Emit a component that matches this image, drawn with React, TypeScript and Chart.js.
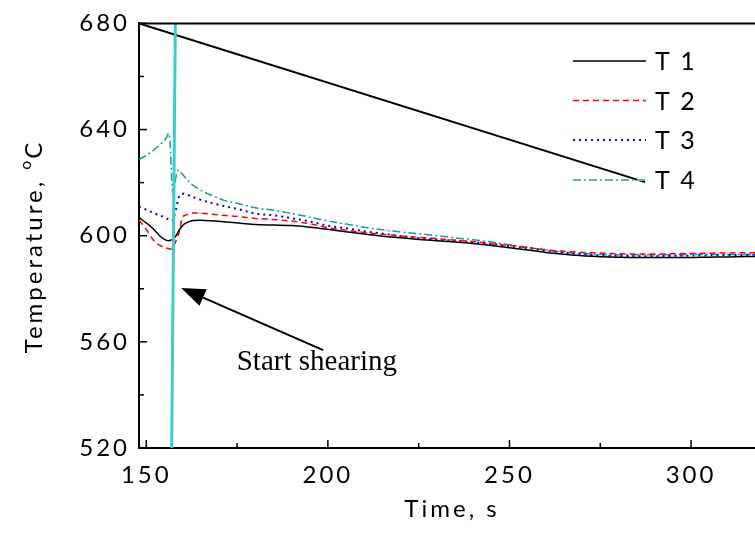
import React, { useEffect, useRef } from "react";
import { Chart, registerables } from "chart.js";

Chart.register(...registerables);

// ---- axis ranges / ticks ----
const xMin = 148;
const xMax = 317.6;
const yMin = 520;
const yMax = 680;
const xMajorTicks = [150, 200, 250, 300];
const xMinorTicks = [175, 225, 275];
const yMajorTicks = [520, 560, 600, 640, 680];
const yMinorTicks = [540, 580, 620, 660];

// ---- series T1..T3 share the same time samples ----
const times = [148, 150, 152, 153, 154, 155, 156, 157, 158, 159, 160, 161, 162, 163, 165, 168, 172, 176, 180, 185, 190, 195, 200, 205, 210, 215, 220, 225, 230, 235, 240, 245, 250, 255, 260, 265, 270, 275, 280, 285, 290, 295, 300, 305, 310, 318];
const t1 = [606.9, 604.8, 602.5, 601.0, 599.6, 598.6, 598.1, 598.4, 599.6, 602.0, 603.8, 604.8, 605.4, 605.7, 605.8, 605.6, 605.2, 604.7, 604.2, 604.0, 603.8, 603.2, 602.4, 601.5, 600.6, 599.8, 599.2, 598.6, 598.1, 597.6, 597.1, 596.3, 595.5, 594.6, 593.7, 593.0, 592.4, 592.1, 591.9, 591.8, 591.8, 591.8, 591.8, 591.9, 592.0, 592.2];
const t2 = [605.9, 602.4, 598.3, 597.0, 596.2, 595.6, 595.2, 595.0, 597.5, 601.0, 607.1, 607.8, 608.4, 608.6, 608.5, 608.1, 607.6, 607.1, 606.5, 606.1, 605.5, 604.5, 603.0, 602.1, 601.2, 600.5, 599.9, 599.4, 598.9, 598.3, 597.8, 597.0, 596.3, 595.5, 594.7, 594.1, 593.7, 593.5, 593.2, 593.1, 593.1, 593.2, 593.3, 593.4, 593.5, 593.6];
const t3 = [611.0, 609.8, 608.6, 608.0, 607.5, 607.0, 606.2, 605.5, 609.0, 614.6, 615.8, 615.6, 615.0, 614.5, 613.5, 612.3, 611.0, 609.8, 608.3, 607.7, 606.6, 605.4, 603.8, 602.8, 601.7, 600.8, 599.9, 599.1, 598.6, 598.1, 597.6, 596.9, 596.1, 595.3, 594.4, 593.6, 593.0, 592.6, 592.4, 592.3, 592.3, 592.4, 592.5, 592.6, 592.7, 592.8];

// ---- T4 has its own samples (sharp spike) ----
const t4Times = [148, 150, 152, 154, 155.5, 156.2, 156.6, 157.0, 157.3, 157.8, 158.3, 158.9, 159.5, 160.5, 162.3, 164, 166, 168, 171.5, 175, 180, 185, 190, 195, 201.5, 205, 210, 215, 220, 225.3, 230, 235, 240, 245, 250, 255, 260, 265, 270, 275, 280, 285, 290, 295, 300, 310, 318];
const t4 = [628.7, 630.2, 632.2, 634.6, 636.8, 638.6, 634.0, 622.0, 616.0, 619.0, 623.0, 624.8, 624.0, 622.3, 619.6, 618.0, 616.4, 615.2, 613.3, 612.2, 610.5, 609.6, 608.4, 607.0, 605.2, 604.4, 603.2, 602.2, 601.4, 600.7, 600.0, 599.2, 598.5, 597.6, 596.6, 595.6, 594.6, 593.8, 593.3, 592.9, 592.8, 592.8, 592.8, 592.8, 592.9, 592.9, 593.0];

// ---- vertical "start shearing" line and the diagonal line ----
const shearTimes = [157.0, 158.0];
const shearTemps = [520, 680];
const diagTimes = [148, 287.3];
const diagTemps = [680, 620.2];

// ---- text ----
const legendLabels = ["T 1", "T 2", "T 3", "T 4"];
const xTitle = "Time, s";
const yTitleMain = "Temperature, ";
const yTitleSup = "o";
const yTitleEnd = "C";
const annotationText = "Start shearing";
const annotationAt = { x: 174.9, y: 549.5 };
const arrowTail = { x: 198.7, y: 556.9 };
const arrowTip = { x: 159.6, y: 580.3 };

const colT1 = "#000000";
const colT2 = "#ff0000";
const colT3 = "#0000ff";
const colT4 = "#1f9a96";
const colT4Legend = "#5cb8b0";
const colShear = "#3ccccc";

const pts = (xs: number[], ys: number[]) => xs.map((x, i) => ({ x, y: ys[i] }));

const FONT = "Lato";

const decorPlugin = {
  id: "decor",
  beforeDraw(chart: any) {
    chart.ctx.letterSpacing = "3px";
  },
  afterDraw(chart: any) {
    const { ctx, chartArea: ca, scales } = chart;
    const xs = scales.x;
    const ys = scales.y;
    ctx.save();
    ctx.strokeStyle = "#000";
    ctx.fillStyle = "#000";
    ctx.lineWidth = 2;
    ctx.setLineDash([]);
    // top frame
    ctx.beginPath();
    ctx.moveTo(ca.left - 1, ca.top);
    ctx.lineTo(ca.right, ca.top);
    ctx.stroke();
    // inward ticks
    ctx.lineWidth = 1.5;
    const tick = (x1: number, y1: number, x2: number, y2: number) => {
      ctx.beginPath();
      ctx.moveTo(x1, y1);
      ctx.lineTo(x2, y2);
      ctx.stroke();
    };
    yMajorTicks.forEach((v) => { const p = ys.getPixelForValue(v); tick(ca.left, p, ca.left + 8, p); });
    yMinorTicks.forEach((v) => { const p = ys.getPixelForValue(v); tick(ca.left, p, ca.left + 5, p); });
    xMajorTicks.forEach((v) => { const p = xs.getPixelForValue(v); tick(p, ca.bottom, p, ca.bottom - 8); });
    xMinorTicks.forEach((v) => { const p = xs.getPixelForValue(v); tick(p, ca.bottom, p, ca.bottom - 5); });

    // legend
    const legendYs = [61, 100.5, 140, 180];
    const styles = [
      { c: colT1, d: [] as number[], w: 1.5 },
      { c: colT2, d: [6, 4], w: 1.5 },
      { c: colT3, d: [2, 4], w: 2 },
      { c: colT4Legend, d: [8, 3, 2, 3], w: 2 },
    ];
    legendLabels.forEach((lab, i) => {
      const s = styles[i];
      ctx.strokeStyle = s.c;
      ctx.lineWidth = s.w;
      ctx.setLineDash(s.d);
      ctx.beginPath();
      ctx.moveTo(573, legendYs[i]);
      ctx.lineTo(646, legendYs[i]);
      ctx.stroke();
      ctx.setLineDash([]);
      ctx.fillStyle = "#000";
      ctx.font = `25px ${FONT}`;
      ctx.letterSpacing = "2px";
      ctx.textAlign = "left";
      ctx.textBaseline = "middle";
      ctx.fillText(lab, 655, legendYs[i] + 1);
    });

    // axis titles
    ctx.letterSpacing = "3px";
    ctx.font = `24px ${FONT}`;
    ctx.textAlign = "center";
    ctx.textBaseline = "alphabetic";
    ctx.fillText(xTitle, 452, 517);

    ctx.save();
    ctx.translate(42, 246);
    ctx.rotate(-Math.PI / 2);
    ctx.textAlign = "left";
    ctx.font = `24px ${FONT}`;
    const wMain = ctx.measureText(yTitleMain).width;
    ctx.font = `16px ${FONT}`;
    const wSup = ctx.measureText(yTitleSup).width;
    ctx.font = `24px ${FONT}`;
    const wEnd = ctx.measureText(yTitleEnd).width;
    const total = wMain + wSup + wEnd;
    let cx = -total / 2;
    ctx.fillText(yTitleMain, cx, 0);
    cx += wMain;
    ctx.font = `16px ${FONT}`;
    ctx.letterSpacing = "1px";
    ctx.fillText(yTitleSup, cx, -11);
    cx += wSup - 1;
    ctx.font = `24px ${FONT}`;
    ctx.fillText(yTitleEnd, cx, 0);
    ctx.restore();

    // annotation
    ctx.letterSpacing = "0px";
    ctx.font = `29px "Liberation Serif"`;
    ctx.textAlign = "left";
    ctx.textBaseline = "alphabetic";
    ctx.fillStyle = "#000";
    ctx.fillText(annotationText, xs.getPixelForValue(annotationAt.x), ys.getPixelForValue(annotationAt.y));

    const tx = xs.getPixelForValue(arrowTail.x), ty = ys.getPixelForValue(arrowTail.y);
    const hx = xs.getPixelForValue(arrowTip.x), hy = ys.getPixelForValue(arrowTip.y);
    const ang = Math.atan2(hy - ty, hx - tx);
    const hl = 24, hw = 9;
    const bx = hx - hl * Math.cos(ang), by = hy - hl * Math.sin(ang);
    ctx.strokeStyle = "#000";
    ctx.lineWidth = 2;
    ctx.beginPath();
    ctx.moveTo(tx, ty);
    ctx.lineTo(bx, by);
    ctx.stroke();
    ctx.beginPath();
    ctx.moveTo(hx, hy);
    ctx.lineTo(bx + hw * Math.sin(ang), by - hw * Math.cos(ang));
    ctx.lineTo(bx - hw * Math.sin(ang), by + hw * Math.cos(ang));
    ctx.closePath();
    ctx.fill();

    ctx.restore();
  },
};

export default function App() {
  const ref = useRef<HTMLCanvasElement | null>(null);

  useEffect(() => {
    document.body.style.margin = "0";
    const canvas = ref.current;
    if (!canvas) return;
    const common = { pointRadius: 0, fill: false, cubicInterpolationMode: "monotone" as const };
    const chart = new Chart(canvas, {
      type: "line",
      data: {
        datasets: [
          { label: "shear", data: pts(shearTimes, shearTemps), borderColor: colShear, borderWidth: 3, pointRadius: 0, fill: false },
          { label: "T 1", data: pts(times, t1), borderColor: colT1, borderWidth: 1.5, ...common },
          { label: "T 2", data: pts(times, t2), borderColor: colT2, borderWidth: 1.5, borderDash: [6, 4], ...common },
          { label: "T 3", data: pts(times, t3), borderColor: colT3, borderWidth: 2, borderDash: [2, 4], ...common },
          { label: "T 4", data: pts(t4Times, t4), borderColor: colT4, borderWidth: 1.5, borderDash: [8, 3, 2, 3], ...common },
          { label: "diag", data: pts(diagTimes, diagTemps), borderColor: "#000", borderWidth: 2, pointRadius: 0, fill: false },
        ],
      },
      options: {
        responsive: false,
        animation: false,
        events: [],
        layout: { padding: { top: 20, right: 0, left: 0, bottom: 0 } },
        plugins: { legend: { display: false }, tooltip: { enabled: false }, title: { display: false } },
        scales: {
          x: {
            type: "linear",
            min: xMin,
            max: xMax,
            afterFit: (s: any) => { s.height = 86; },
            grid: { display: false, drawTicks: false },
            border: { display: true, color: "#000", width: 2 },
            ticks: {
              stepSize: 50,
              includeBounds: false,
              autoSkip: false,
              maxRotation: 0,
              padding: 13,
              color: "#000",
              font: { family: FONT, size: 24 },
              callback: (v: any) => (xMajorTicks.includes(Number(v)) ? String(v) : ""),
            },
          },
          y: {
            type: "linear",
            min: yMin,
            max: yMax,
            afterFit: (s: any) => { s.width = 139; },
            grid: { display: false, drawTicks: false },
            border: { display: true, color: "#000", width: 2 },
            ticks: {
              stepSize: 40,
              autoSkip: false,
              padding: 9,
              color: "#000",
              font: { family: FONT, size: 24 },
              callback: (v: any) => (yMajorTicks.includes(Number(v)) ? String(v) : ""),
            },
          },
        },
      },
      plugins: [decorPlugin],
    });
    return () => chart.destroy();
  }, []);

  return (
    <div style={{ width: 755, height: 534, position: "relative" }}>
      <canvas ref={ref} width={755} height={534} style={{ width: 755, height: 534, display: "block" }} />
    </div>
  );
}
